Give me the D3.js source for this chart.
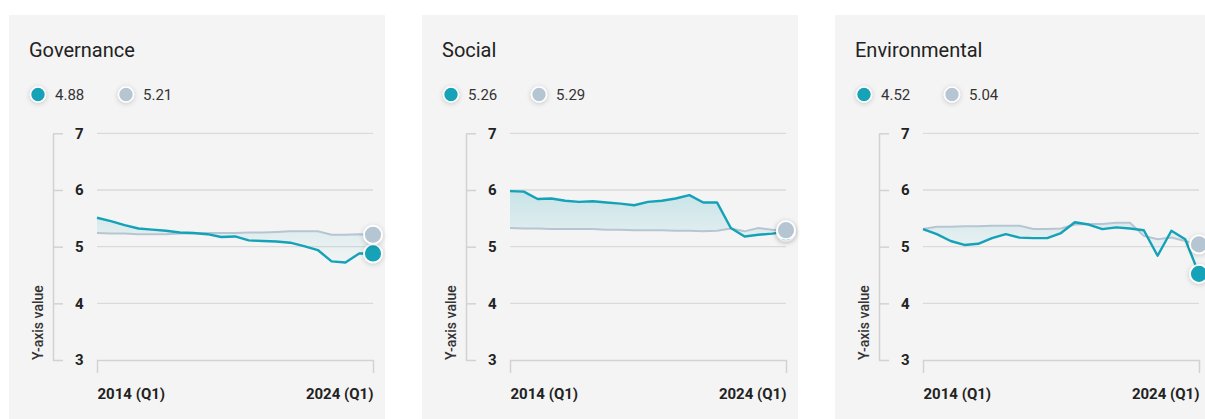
<!DOCTYPE html>
<html>
<head>
<meta charset="utf-8">
<script src="https://cdn.jsdelivr.net/npm/d3@7"></script>
<style>
  body { margin: 0; background: #fff; font-family: Roboto, "Open Sans", sans-serif; }
  svg { display: block; }
</style>
</head>
<body>
<svg width="1205" height="419"></svg>
<script>
// half-yearly periods, 2014 (Q1) .. 2024 (Q1)
const periods = ["2014 (Q1)", "2014 (Q3)", "2015 (Q1)", "2015 (Q3)", "2016 (Q1)", "2016 (Q3)",
  "2017 (Q1)", "2017 (Q3)", "2018 (Q1)", "2018 (Q3)", "2019 (Q1)", "2019 (Q3)", "2020 (Q1)",
  "2020 (Q3)", "2021 (Q1)", "2021 (Q3)", "2022 (Q1)", "2022 (Q3)", "2023 (Q1)", "2023 (Q3)", "2024 (Q1)"];
const xTicks = ["2014 (Q1)", "2024 (Q1)"];
const yTicks = [3, 4, 5, 6, 7];

const categories = ["Governance", "Social", "Environmental"];

const governanceMain = [5.51, 5.45, 5.38, 5.32, 5.30, 5.28, 5.25, 5.24, 5.22, 5.17, 5.18,
  5.11, 5.10, 5.09, 5.07, 5.01, 4.94, 4.74, 4.72, 4.88, 4.88];
const governanceBench = [5.24, 5.23, 5.23, 5.22, 5.22, 5.22, 5.23, 5.23, 5.24, 5.24, 5.24,
  5.25, 5.25, 5.26, 5.27, 5.27, 5.27, 5.21, 5.21, 5.22, 5.21];

const socialMain = [5.98, 5.97, 5.84, 5.85, 5.81, 5.79, 5.80, 5.78, 5.76, 5.73, 5.79,
  5.81, 5.85, 5.91, 5.78, 5.78, 5.33, 5.18, 5.21, 5.23, 5.26];
const socialBench = [5.33, 5.32, 5.32, 5.31, 5.31, 5.31, 5.31, 5.30, 5.30, 5.29, 5.29,
  5.29, 5.28, 5.28, 5.27, 5.28, 5.32, 5.27, 5.33, 5.30, 5.29];

const environmentalMain = [5.31, 5.22, 5.10, 5.03, 5.05, 5.15, 5.22, 5.16, 5.15, 5.15, 5.24,
  5.43, 5.39, 5.31, 5.34, 5.32, 5.29, 4.84, 5.28, 5.13, 4.52];
const environmentalBench = [5.31, 5.35, 5.35, 5.36, 5.36, 5.37, 5.37, 5.37, 5.31, 5.31, 5.32,
  5.39, 5.40, 5.40, 5.42, 5.42, 5.19, 5.13, 5.16, 5.10, 5.04];

const mainSeries = [governanceMain, socialMain, environmentalMain];
const benchSeries = [governanceBench, socialBench, environmentalBench];

const teal = "#13a2b7";
const grey = "#b6c5d2";

const svg = d3.select("svg");
const panelW = 376, panelGap = 413;

const x = d3.scalePoint().domain(periods).range([97, 373]);
const y = d3.scaleLinear().domain([3, 7]).range([360, 133.3]);

const defs = svg.append("defs");
const shadow = defs.append("filter").attr("id", "shadow")
    .attr("x", "-60%").attr("y", "-60%").attr("width", "220%").attr("height", "220%");
shadow.append("feDropShadow").attr("dx", 0).attr("dy", 1).attr("stdDeviation", 2.4)
    .attr("flood-color", "#000").attr("flood-opacity", 0.2);

// fill fades with value, same for every panel
const grad = defs.append("linearGradient").attr("id", "fillGrad")
    .attr("gradientUnits", "userSpaceOnUse")
    .attr("x1", 0).attr("y1", y(6)).attr("x2", 0).attr("y2", y(4.8));
grad.append("stop").attr("offset", "0%").attr("stop-color", teal).attr("stop-opacity", 0.2);
grad.append("stop").attr("offset", "100%").attr("stop-color", teal).attr("stop-opacity", 0.02);

categories.forEach((name, k) => {
    const main = mainSeries[k];
    const bench = benchSeries[k];
    const g = svg.append("g").attr("transform", `translate(${k * panelGap},0)`);

    g.append("rect").attr("x", 9).attr("y", 15).attr("width", panelW).attr("height", 420)
        .attr("fill", "#f4f4f4");

    g.append("text").attr("x", 29).attr("y", 57).text(name)
        .attr("font-size", 20).attr("fill", "#222");

    // legend
    const legend = [[main, teal, 38], [bench, grey, 126]];
    legend.forEach(([s, c, lx]) => {
        g.append("circle").attr("cx", lx).attr("cy", 94.5).attr("r", 7.5)
            .attr("fill", c).attr("stroke", "#fff").attr("stroke-width", 1.6)
            .attr("filter", "url(#shadow)");
        g.append("text").attr("x", lx + 17).attr("y", 100).text(s[s.length - 1].toFixed(2))
            .attr("font-size", 15).attr("fill", "#333");
    });

    // gridlines
    g.append("g").selectAll("line").data(yTicks.filter(d => d > 3)).join("line")
        .attr("x1", 97).attr("x2", 373)
        .attr("y1", d => y(d)).attr("y2", d => y(d))
        .attr("stroke", "#dadada").attr("stroke-width", 1.3);

    // y axis
    const yAxis = g.append("g").attr("transform", "translate(53,0)")
        .call(d3.axisRight(y).tickValues(yTicks).tickFormat(d3.format("d"))
            .tickSize(10).tickSizeOuter(0).tickPadding(12));
    yAxis.select(".domain").attr("stroke", "#d2d2d2").attr("stroke-width", 1.5);
    yAxis.selectAll(".tick line").attr("stroke", "#d2d2d2").attr("stroke-width", 1.5);
    yAxis.selectAll(".tick text").attr("font-family", "Roboto").attr("font-size", 15)
        .attr("font-weight", 700).attr("fill", "#222");

    // x axis
    const xAxis = g.append("g").attr("transform", "translate(0,360)")
        .call(d3.axisBottom(x).tickValues(xTicks).tickSize(0).tickSizeOuter(13).tickPadding(28));
    xAxis.select(".domain").attr("stroke", "#d2d2d2").attr("stroke-width", 1.5);
    xAxis.selectAll(".tick text").attr("font-family", "Roboto").attr("font-size", 15)
        .attr("font-weight", 700).attr("fill", "#222")
        .attr("text-anchor", (d, i) => i === 0 ? "start" : "end");

    g.append("text").attr("transform", "translate(43,360) rotate(-90)")
        .text("Y-axis value").attr("font-size", 14).attr("font-weight", 500).attr("fill", "#333");

    // area between the two series
    g.append("path").datum(periods)
        .attr("d", d3.area().x(p => x(p))
            .y0((p, i) => y(bench[i])).y1((p, i) => y(main[i])))
        .attr("fill", "url(#fillGrad)");

    g.append("path").datum(bench)
        .attr("d", d3.line().x((d, i) => x(periods[i])).y(d => y(d)))
        .attr("fill", "none").attr("stroke", grey).attr("stroke-width", 2);

    g.append("path").datum(main)
        .attr("d", d3.line().x((d, i) => x(periods[i])).y(d => y(d)))
        .attr("fill", "none").attr("stroke", teal).attr("stroke-width", 2.4)
        .attr("stroke-linejoin", "round");

    // end markers
    const last = periods[periods.length - 1];
    [[main, teal], [bench, grey]].forEach(([s, c]) => {
        g.append("circle").attr("cx", x(last)).attr("cy", y(s[s.length - 1])).attr("r", 9)
            .attr("fill", c).attr("stroke", "#fff").attr("stroke-width", 1.8)
            .attr("filter", "url(#shadow)");
    });
});
</script>
</body>
</html>
